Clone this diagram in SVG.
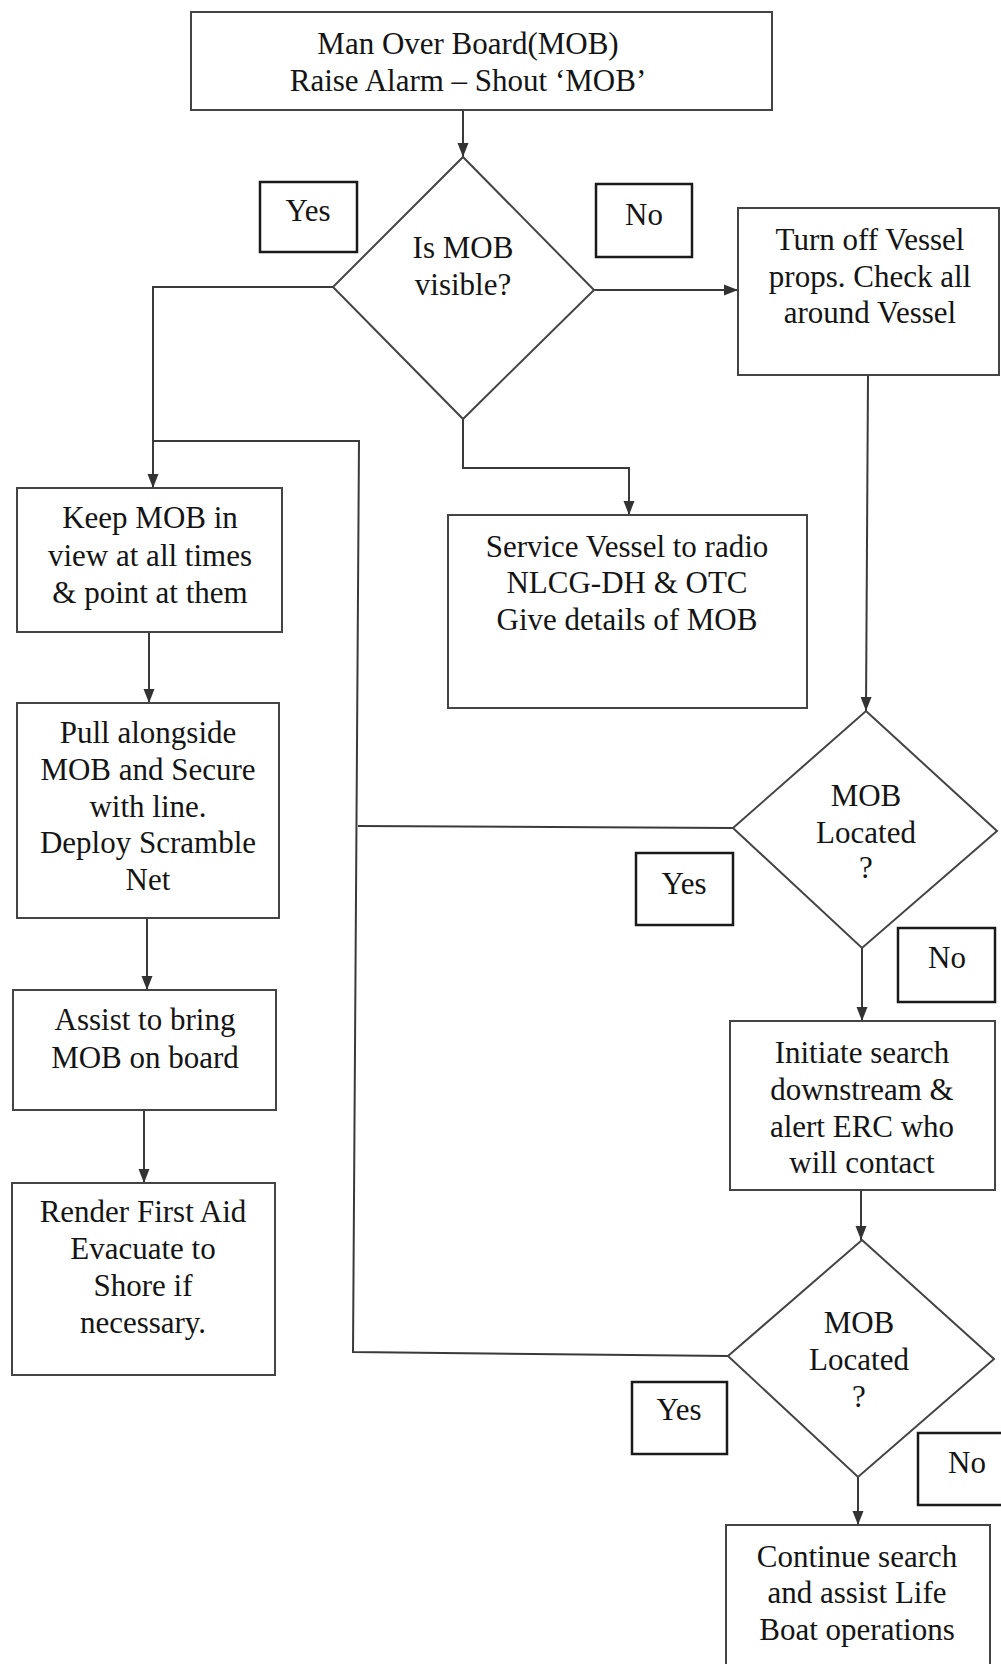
<svg xmlns="http://www.w3.org/2000/svg" width="1001" height="1664" viewBox="0 0 1001 1664">
<style>
.box{fill:#fff;stroke:#444;stroke-width:2}
.lbl{fill:#fff;stroke:#1a1a1a;stroke-width:2.5}
.dia{fill:#fff;stroke:#444;stroke-width:2}
.ln{fill:none;stroke:#3a3a3a;stroke-width:2}
text{font-family:"Liberation Serif","Times New Roman",serif;font-size:31px;fill:#141414;text-anchor:middle}
</style>
<defs>
<marker id="ah" markerUnits="userSpaceOnUse" markerWidth="14" markerHeight="14" viewBox="0 0 14 14" refX="14" refY="7" orient="auto">
<path d="M0,1.5 L14,7 L0,12.5 Z" fill="#333"/>
</marker>
</defs>
<rect width="1001" height="1664" fill="#fff"/>
<g id="connectors">
<path class="ln" d="M463,110 L463,157" marker-end="url(#ah)"/>
<path class="ln" d="M594,290 L738,290" marker-end="url(#ah)"/>
<path class="ln" d="M333,287 L153,287 L153,488" marker-end="url(#ah)"/>
<path class="ln" d="M463,419 L463,468 L629,468 L629,515" marker-end="url(#ah)"/>
<path class="ln" d="M868,375 L866,711" marker-end="url(#ah)"/>
<path class="ln" d="M153,441 L359,441 L353,1352 L728,1356"/>
<path class="ln" d="M358,826 L733,828"/>
<path class="ln" d="M149,632 L149,703" marker-end="url(#ah)"/>
<path class="ln" d="M147,918 L147,990" marker-end="url(#ah)"/>
<path class="ln" d="M144,1110 L144,1183" marker-end="url(#ah)"/>
<path class="ln" d="M862,948 L862,1021" marker-end="url(#ah)"/>
<path class="ln" d="M861,1190 L861,1240" marker-end="url(#ah)"/>
<path class="ln" d="M858,1477 L858,1525" marker-end="url(#ah)"/>
</g>
<g id="start">
<rect class="box" x="191" y="12" width="581" height="98"/>
<text x="468" y="54">Man Over Board(MOB)</text>
<text x="468" y="91">Raise Alarm – Shout ‘MOB’</text>
</g>
<g id="visible">
<polygon class="dia" points="463,157 594,290 463,419 333,287"/>
<text x="463" y="258">Is MOB</text>
<text x="463" y="295">visible?</text>
</g>
<g id="yes1">
<rect class="lbl" x="260" y="182" width="97" height="70"/>
<text x="308" y="221">Yes</text>
</g>
<g id="no1">
<rect class="lbl" x="596" y="184" width="96" height="73"/>
<text x="644" y="225">No</text>
</g>
<g id="turnoff">
<rect class="box" x="738" y="208" width="261" height="167"/>
<text x="870" y="250">Turn off Vessel</text>
<text x="870" y="287">props. Check all</text>
<text x="870" y="323">around Vessel</text>
</g>
<g id="keep">
<rect class="box" x="17" y="488" width="265" height="144"/>
<text x="150" y="528">Keep MOB in</text>
<text x="150" y="566">view at all times</text>
<text x="150" y="603">&amp; point at them</text>
</g>
<g id="service">
<rect class="box" x="448" y="515" width="359" height="193"/>
<text x="627" y="557">Service Vessel to radio</text>
<text x="627" y="593">NLCG-DH &amp; OTC</text>
<text x="627" y="630">Give details of MOB</text>
</g>
<g id="pull">
<rect class="box" x="17" y="703" width="262" height="215"/>
<text x="148" y="743">Pull alongside</text>
<text x="148" y="780">MOB and Secure</text>
<text x="148" y="817">with line.</text>
<text x="148" y="853">Deploy Scramble</text>
<text x="148" y="890">Net</text>
</g>
<g id="located1">
<polygon class="dia" points="866,711 997,831 862,948 733,828"/>
<text x="866" y="806">MOB</text>
<text x="866" y="843">Located</text>
<text x="866" y="878">?</text>
</g>
<g id="yes2">
<rect class="lbl" x="636" y="853" width="97" height="72"/>
<text x="684" y="894">Yes</text>
</g>
<g id="no2">
<rect class="lbl" x="898" y="928" width="97" height="74"/>
<text x="947" y="968">No</text>
</g>
<g id="assist">
<rect class="box" x="13" y="990" width="263" height="120"/>
<text x="145" y="1030">Assist to bring</text>
<text x="145" y="1068">MOB on board</text>
</g>
<g id="initiate">
<rect class="box" x="730" y="1021" width="265" height="169"/>
<text x="862" y="1063">Initiate search</text>
<text x="862" y="1100">downstream &amp;</text>
<text x="862" y="1137">alert ERC who</text>
<text x="862" y="1173">will contact</text>
</g>
<g id="render">
<rect class="box" x="12" y="1183" width="263" height="192"/>
<text x="143" y="1222">Render First Aid</text>
<text x="143" y="1259">Evacuate to</text>
<text x="143" y="1296">Shore if</text>
<text x="143" y="1333">necessary.</text>
</g>
<g id="located2">
<polygon class="dia" points="862,1240 994,1359 858,1477 728,1356"/>
<text x="859" y="1333">MOB</text>
<text x="859" y="1370">Located</text>
<text x="859" y="1407">?</text>
</g>
<g id="yes3">
<rect class="lbl" x="632" y="1382" width="95" height="72"/>
<text x="679" y="1420">Yes</text>
</g>
<g id="no3">
<rect class="lbl" x="918" y="1433" width="90" height="72"/>
<text x="967" y="1473">No</text>
</g>
<g id="continue">
<rect class="box" x="726" y="1525" width="264" height="150"/>
<text x="857" y="1567">Continue search</text>
<text x="857" y="1603">and assist Life</text>
<text x="857" y="1640">Boat operations</text>
</g>
</svg>
